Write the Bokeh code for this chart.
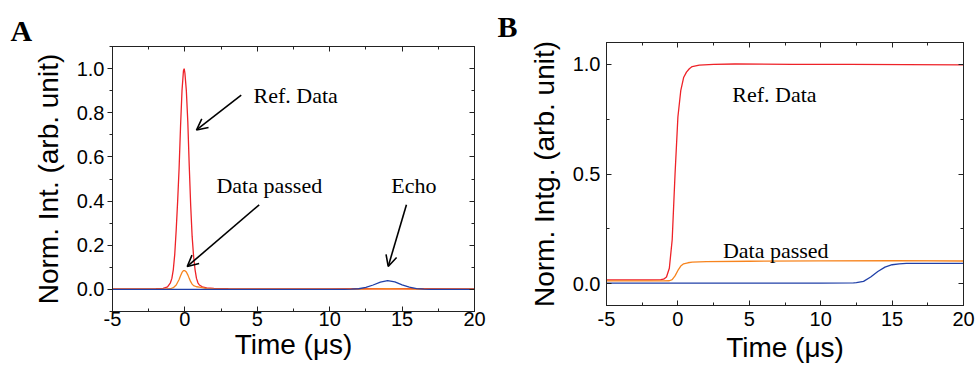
from bokeh.plotting import figure
from bokeh.layouts import row, column
from bokeh.models import (Range1d, LinearAxis, SingleIntervalTicker, PrintfTickFormatter,
                          CustomJSTickFormatter, Label, Arrow, OpenHead)
from bokeh.embed import file_html
from bokeh.resources import INLINE

# ---------------- Panel A data: normalized intensity ----------------
a_ref_t = [-5, -3, -2, -1.5, -1.2, -1.0, -0.9, -0.8, -0.7, -0.6, -0.5, -0.4, -0.3, -0.2, -0.1, -0.05,
           0.0, 0.1, 0.2, 0.3, 0.4, 0.5, 0.6, 0.7, 0.8, 0.9, 1.0, 1.2, 1.5, 2.0, 3.0, 5, 10, 12, 14, 16, 20]
a_ref_y = [0.002, 0.002, 0.003, 0.005, 0.012, 0.03, 0.05, 0.09, 0.16, 0.27, 0.4, 0.55, 0.74, 0.9, 0.99, 1.0,
           0.98, 0.9, 0.76, 0.56, 0.38, 0.24, 0.15, 0.09, 0.05, 0.03, 0.02, 0.012, 0.007, 0.005, 0.003,
           0.002, 0.002, 0.003, 0.004, 0.003, 0.002]

a_pass_t = [-5, -1.5, -1.0, -0.8, -0.6, -0.4, -0.3, -0.2, -0.1, 0.0, 0.1, 0.2, 0.3, 0.4, 0.5, 0.6,
            0.8, 1.0, 1.2, 1.5, 2.0, 3.0, 12, 13, 14, 15, 16, 20]
a_pass_y = [0.001, 0.001, 0.003, 0.008, 0.02, 0.045, 0.062, 0.077, 0.085, 0.085, 0.079, 0.066, 0.05,
            0.035, 0.024, 0.017, 0.012, 0.01, 0.008, 0.004, 0.002, 0.001, 0.001, 0.002, 0.003, 0.002,
            0.001, 0.001]

a_echo_t = [-5, 11, 11.5, 12, 12.5, 13, 13.5, 14, 14.5, 15, 15.5, 16, 16.5, 17, 20]
a_echo_y = [0.0, 0.0, 0.001, 0.003, 0.009, 0.02, 0.033, 0.04, 0.034, 0.021, 0.01, 0.004, 0.001, 0.0, 0.0]

# ---------------- Panel B data: normalized integral ----------------
b_ref_t = [-5, -2, -1.2, -1.0, -0.8, -0.6, -0.4, -0.2, 0.0, 0.2, 0.4, 0.6, 0.8, 1.0, 1.5, 2.5, 4,
           8, 12, 16, 20]
b_ref_y = [0.017, 0.017, 0.018, 0.02, 0.03, 0.07, 0.2, 0.5, 0.76, 0.88, 0.94, 0.965, 0.98, 0.99,
           0.997, 1.0, 1.002, 1.0, 1.0, 0.999, 0.998]

b_pass_t = [-5, -1.0, -0.6, -0.4, -0.2, 0.0, 0.2, 0.4, 0.7, 1.0, 2.0, 5, 10, 15, 20]
b_pass_y = [0.012, 0.012, 0.013, 0.018, 0.035, 0.06, 0.08, 0.09, 0.095, 0.098, 0.1, 0.102, 0.104,
            0.105, 0.103]

b_echo_t = [-5, 10, 12.3, 12.5, 13, 13.5, 14, 14.5, 15, 15.5, 16, 20]
b_echo_y = [0.002, 0.002, 0.003, 0.004, 0.01, 0.03, 0.055, 0.075, 0.086, 0.09, 0.092, 0.092]

RED = "#ee2228"
ORANGE = "#f7841e"
BLUE = "#2040a8"

SANS = "Liberation Sans"
SERIF = "Liberation Serif"


def style_axis(ax, tick_in, tick_out, minor_in, minor_out, show_labels=True, standoff=4):
    ax.major_tick_in = tick_in
    ax.major_tick_out = tick_out
    ax.minor_tick_in = minor_in
    ax.minor_tick_out = minor_out
    ax.axis_line_color = "#222222"
    ax.major_tick_line_color = "#222222"
    ax.minor_tick_line_color = "#222222"
    ax.major_label_text_font = SANS
    ax.major_label_text_color = "black"
    ax.major_label_standoff = standoff
    if show_labels:
        ax.major_label_text_font_size = "20px"
    else:
        ax.formatter = CustomJSTickFormatter(code="return ''")
        ax.major_label_text_font_size = "1px"
        ax.major_label_standoff = 0
    ax.axis_label_text_font = SANS
    ax.axis_label_text_font_size = "28px"
    ax.axis_label_text_font_style = "normal"
    ax.axis_label_text_color = "black"


def make_fig(width, ml, mr, mt, mb, y_interval, ylabel, left_out, ylab_standoff,
             xtick_standoff, xlab_standoff, letter, letter_offset):
    p = figure(width=width, height=372, output_backend="svg", toolbar_location=None,
               x_range=Range1d(-5, 20), y_range=Range1d(-0.1, 1.1),
               min_border_left=ml, min_border_right=mr, min_border_top=mt, min_border_bottom=mb)
    p.xgrid.visible = False
    p.ygrid.visible = False
    p.outline_line_color = "#222222"
    p.outline_line_width = 1
    p.background_fill_color = "white"
    p.border_fill_color = "white"

    p.xaxis.ticker = SingleIntervalTicker(interval=5, num_minor_ticks=2)
    p.yaxis.ticker = SingleIntervalTicker(interval=y_interval, num_minor_ticks=2)
    p.xaxis.axis_label = "Time (\u03bcs)"
    p.yaxis.axis_label = ylabel

    style_axis(p.xaxis[0], 5, 0, 3, 0, standoff=xtick_standoff)
    if left_out:
        style_axis(p.yaxis[0], 0, 5, 0, 3, standoff=3)
    else:
        style_axis(p.yaxis[0], 5, 0, 3, 0, standoff=6)
    p.xaxis[0].formatter = PrintfTickFormatter(format="%d")
    p.yaxis[0].formatter = PrintfTickFormatter(format="%.1f")
    p.xaxis[0].axis_label_standoff = xlab_standoff
    p.yaxis[0].axis_label_standoff = ylab_standoff

    top = LinearAxis(ticker=SingleIntervalTicker(interval=5, num_minor_ticks=2))
    style_axis(top, 5, 0, 3, 0, show_labels=False)
    p.add_layout(top, "above")
    right = LinearAxis(ticker=SingleIntervalTicker(interval=y_interval, num_minor_ticks=2))
    style_axis(right, 5, 0, 3, 0, show_labels=False)
    p.add_layout(right, "right")

    # panel letter
    p.title.text = letter
    p.title.align = "left"
    p.title.offset = letter_offset
    p.title.standoff = 0
    p.title.text_font = SERIF
    p.title.text_font_size = "30px"
    p.title.text_font_style = "bold"
    p.title.text_color = "black"
    return p


# ---------------- Panel A ----------------
pA = make_fig(490, 112, 16, 46, 61, 0.2, "Norm. Int. (arb. unit)", True, 10, 0, 0, "A", -102)
pA.line(a_ref_t, a_ref_y, color=RED, line_width=1.3)
pA.line(a_pass_t, a_pass_y, color=ORANGE, line_width=1.3)
pA.line(a_echo_t, a_echo_y, color=BLUE, line_width=1.3)

for txt, x, y in [("Ref. Data", 4.74, 0.88), ("Data passed", 2.18, 0.469), ("Echo", 14.25, 0.469)]:
    pA.add_layout(Label(x=x, y=y, text=txt, text_font=SERIF, text_font_size="22px",
                        text_color="black", text_baseline="alphabetic"))

for xs, ys, xe, ye in [(3.89, 0.88, 0.80, 0.722), (5.13, 0.383, 0.16, 0.104), (15.30, 0.383, 14.04, 0.104)]:
    pA.add_layout(Arrow(end=OpenHead(size=11, line_width=1.6, line_color="black"),
                        x_start=xs, y_start=ys, x_end=xe, y_end=ye,
                        line_width=1.6, line_color="black"))

# ---------------- Panel B ----------------
pB = make_fig(486, 116, 13, 42, 67, 0.5, "Norm. Intg. (arb. unit)", False, 10, 6, 3, "B", -109)
pB.line(b_ref_t, b_ref_y, color=RED, line_width=1.3)
pB.line(b_pass_t, b_pass_y, color=ORANGE, line_width=1.3)
pB.line(b_echo_t, b_echo_y, color=BLUE, line_width=1.3)

for txt, x, y in [("Ref. Data", 3.81, 0.863), ("Data passed", 3.15, 0.151)]:
    pB.add_layout(Label(x=x, y=y, text=txt, text_font=SERIF, text_font_size="22px",
                        text_color="black", text_baseline="alphabetic"))

layout = row(column(pA), column(pB))
open("out.html", "w").write(file_html(layout, INLINE))
